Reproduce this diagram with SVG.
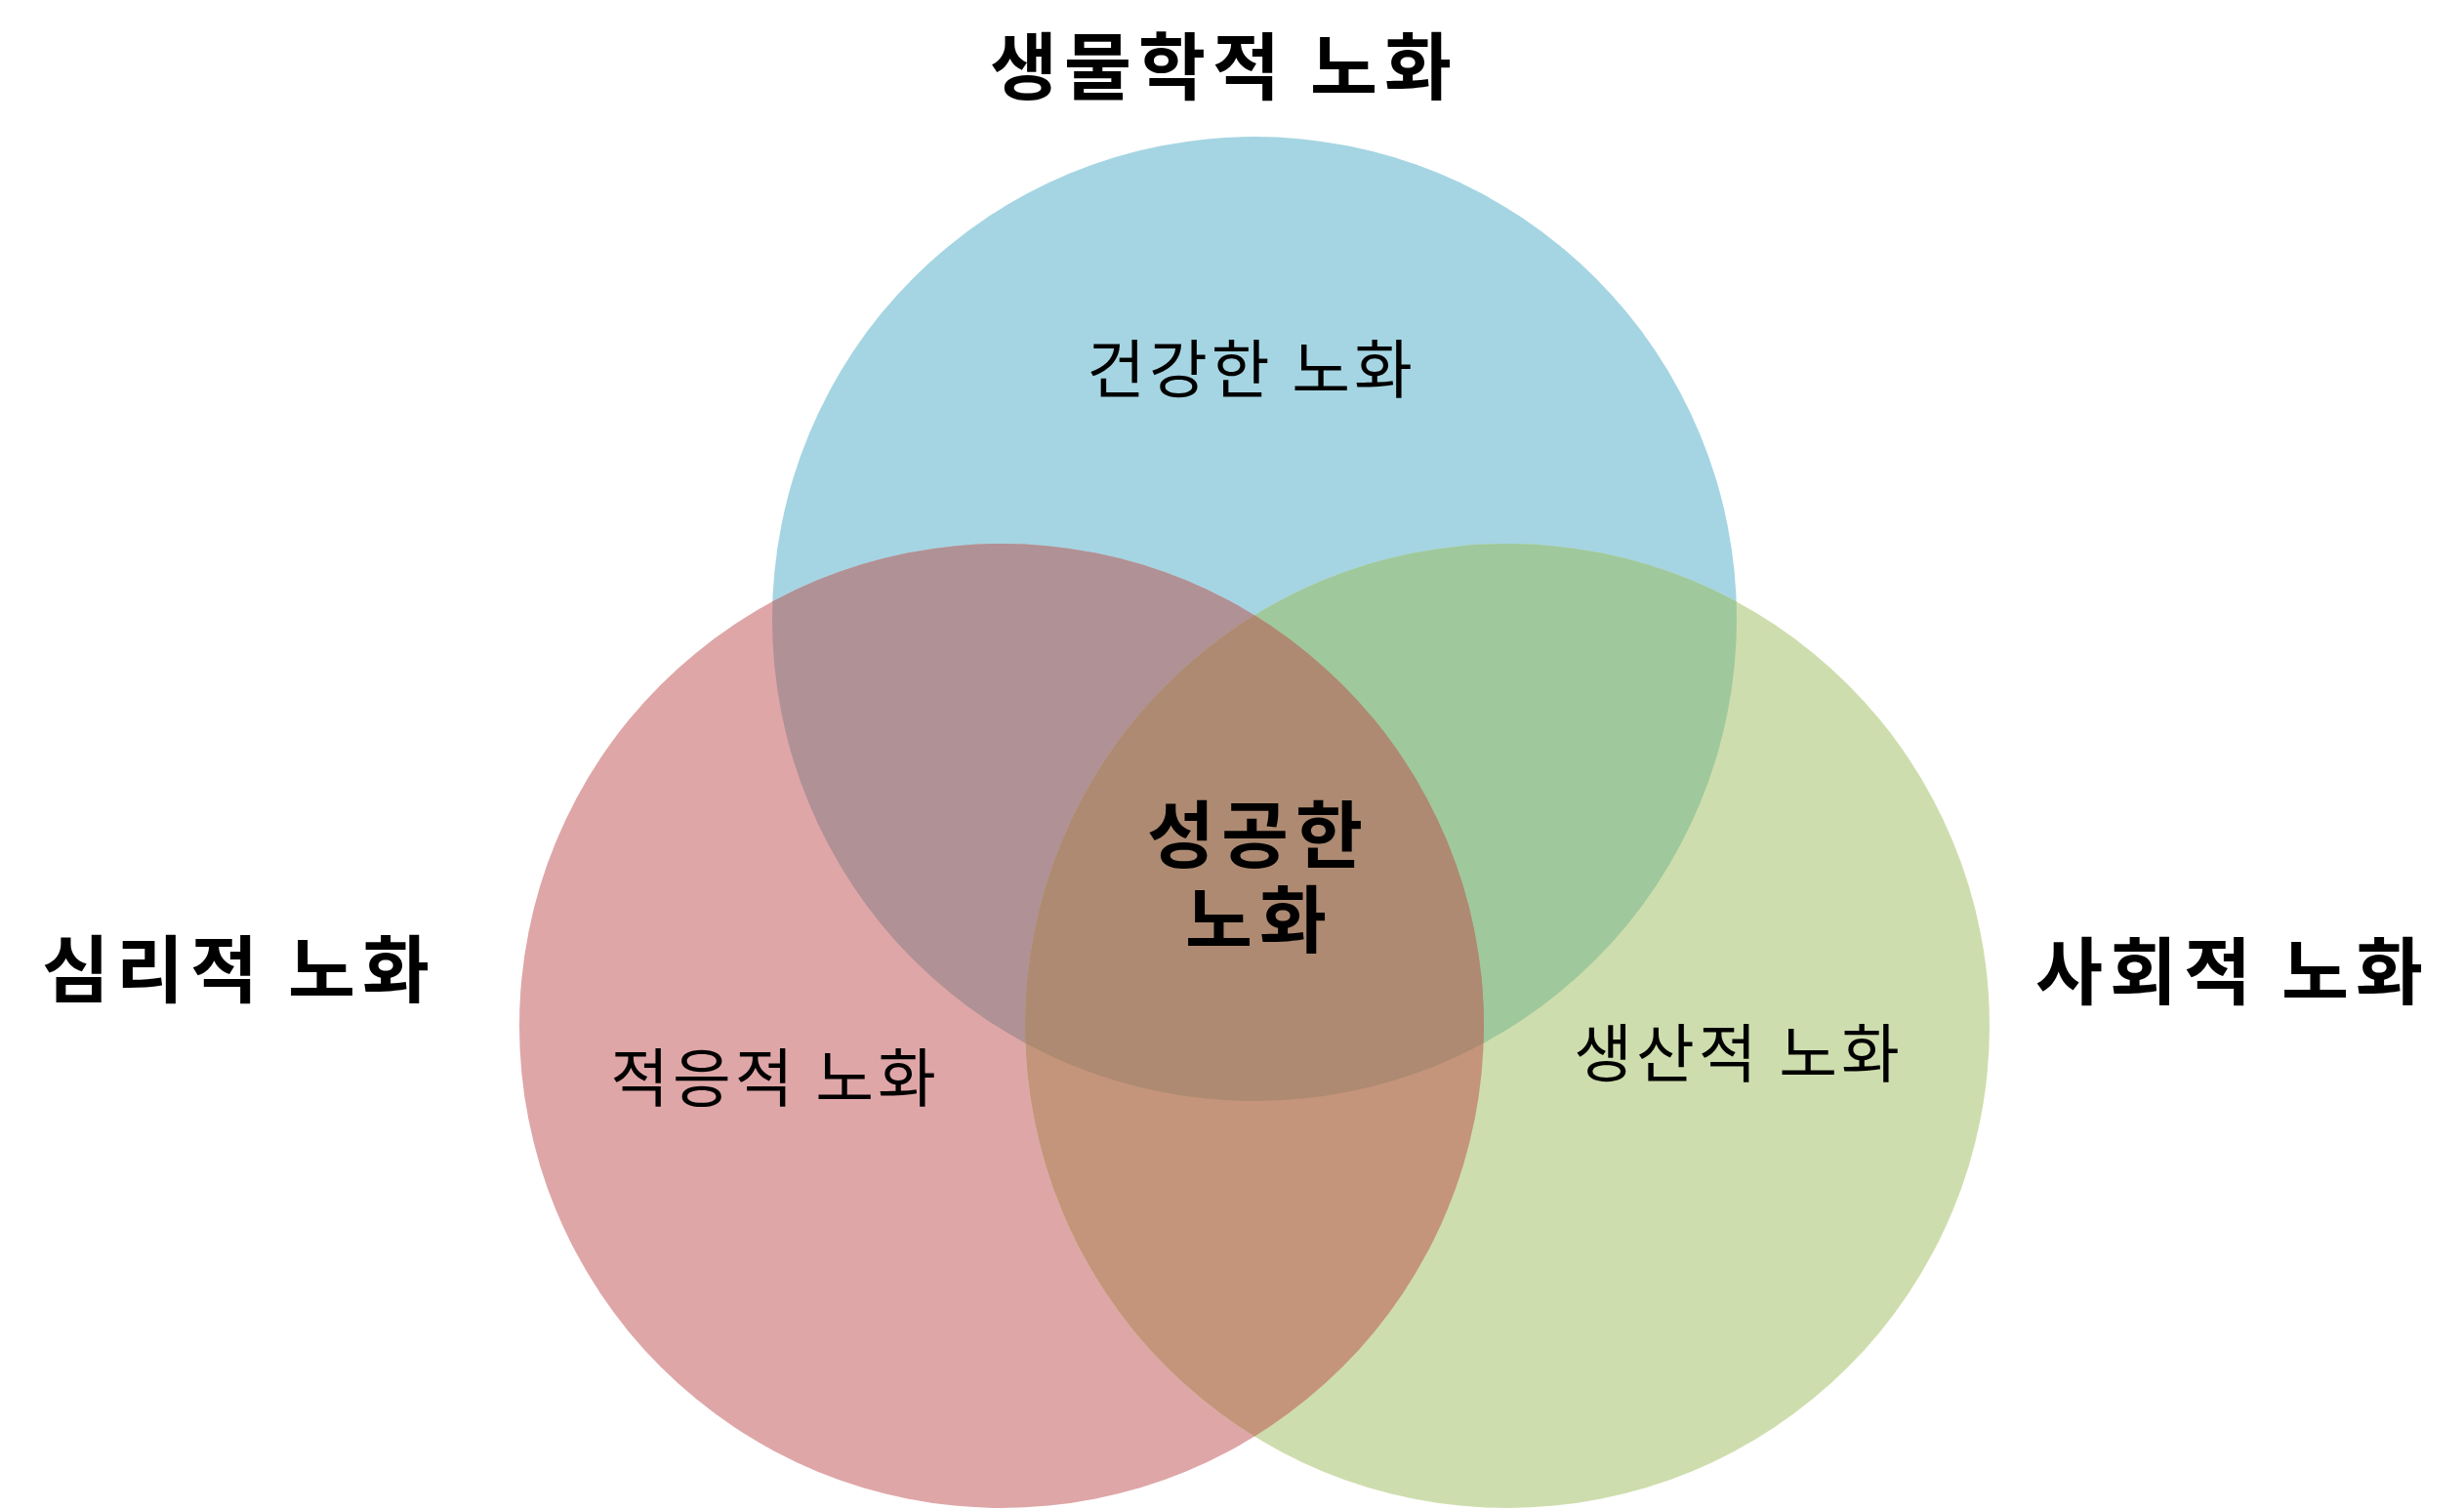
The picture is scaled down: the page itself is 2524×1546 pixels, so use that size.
<svg xmlns="http://www.w3.org/2000/svg" width="2524" height="1546" viewBox="0 0 2524 1546">
<style>
text{font-family:"Noto Sans CJK KR","Noto Sans CJK SC",sans-serif;fill:#000;text-anchor:middle}
.b{font-weight:700;font-size:75px;letter-spacing:7px}
.r{font-weight:400;font-size:65px;letter-spacing:4px}
</style>
<defs>
<circle id="cT" cx="1285" cy="634" r="494"/>
<circle id="cL" cx="1026" cy="1051" r="494"/>
<circle id="cR" cx="1544" cy="1051" r="494"/>
<clipPath id="clipT"><use href="#cT"/></clipPath>
<clipPath id="clipL"><use href="#cL"/></clipPath>
</defs>
<rect width="2524" height="1546" fill="#fff"/>
<g id="biological">
<use href="#cT" fill="#A5D5E2"/>
</g>
<g id="psychological">
<use href="#cL" fill="#DFA6A7"/>
</g>
<g id="social">
<use href="#cR" fill="#CEDDAD"/>
</g>
<g id="overlaps">
<use href="#cL" fill="#B09195" clip-path="url(#clipT)"/>
<use href="#cR" fill="#9FC89C" clip-path="url(#clipT)"/>
<use href="#cR" fill="#C4957B" clip-path="url(#clipL)"/>
<g clip-path="url(#clipT)"><use href="#cR" fill="#AD8A71" clip-path="url(#clipL)"/></g>
</g>
<g id="labels">
<text class="b" x="1254" y="96">생물학적 노화</text>
<text class="b" x="245" y="1021">심리적 노화</text>
<text class="b" x="2287" y="1023">사회적 노화</text>
<text class="r" x="1282" y="402">건강한 노화</text>
<text class="r" x="794" y="1128">적응적 노화</text>
<text class="r" x="1781" y="1103">생산적 노화</text>
<text class="b"><tspan x="1289" y="883">성공한</tspan><tspan x="1290" y="970">노화</tspan></text>
</g>
</svg>
